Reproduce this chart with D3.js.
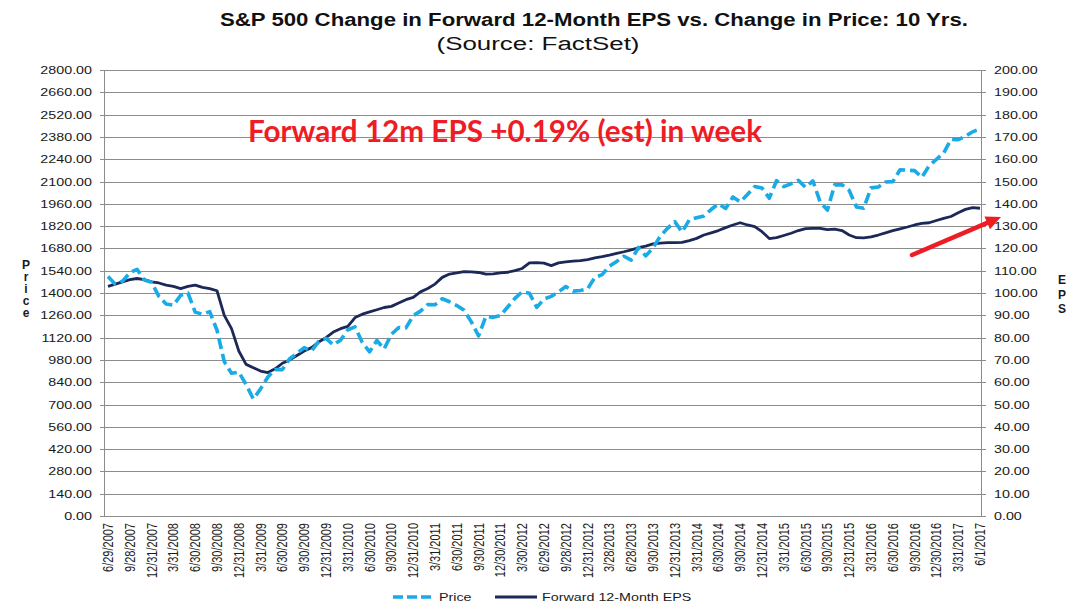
<!DOCTYPE html>
<html><head><meta charset="utf-8">
<script src="https://cdn.jsdelivr.net/npm/d3@7"></script>
<style>
html,body{margin:0;padding:0;background:#fff;}
svg{display:block;font-family:"Liberation Sans",Arial,sans-serif;}
</style></head>
<body>
<svg id="chart" width="1076" height="610"></svg>
<script>
// ---- data (month index 0 = 6/29/2007 ... 120 = 6/1/2017) ----
const xLabels = ["6/29/2007","9/28/2007","12/31/2007","3/31/2008","6/30/2008","9/30/2008","12/31/2008","3/31/2009","6/30/2009","9/30/2009","12/31/2009","3/31/2010","6/30/2010","9/30/2010","12/31/2010","3/31/2011","6/30/2011","9/30/2011","12/30/2011","3/30/2012","6/29/2012","9/28/2012","12/31/2012","3/28/2013","6/28/2013","9/30/2013","12/31/2013","3/31/2014","6/30/2014","9/30/2014","12/31/2014","3/31/2015","6/30/2015","9/30/2015","12/31/2015","3/31/2016","6/30/2016","9/30/2016","12/30/2016","3/31/2017","6/1/2017"];
const priceValues = [1503,1455,1474,1527,1549,1481,1468,1378,1331,1323,1386,1400,1280,1267,1283,1166,969,896,903,826,735,798,873,919,919,987,1021,1057,1036,1096,1115,1074,1104,1169,1187,1089,1031,1102,1049,1141,1183,1181,1258,1286,1327,1326,1364,1345,1321,1292,1219,1131,1253,1247,1258,1312,1366,1408,1398,1310,1362,1379,1407,1441,1412,1416,1426,1498,1515,1569,1598,1631,1606,1686,1633,1682,1757,1806,1848,1783,1859,1872,1884,1924,1960,1931,2003,1972,2018,2068,2059,1995,2105,2068,2086,2107,2063,2104,1972,1920,2079,2080,2044,1940,1932,2060,2065,2097,2099,2174,2171,2168,2126,2199,2239,2279,2364,2363,2384,2412,2431];
const epsValues = [103,104,105,106,106.5,106,105,104.5,103.5,103,102,103,103.5,102.5,102,101,90,84,74,68,66.5,65,64.3,66,68.5,70,72,74,75.5,78,80,82.5,84,85,89,90.5,91.5,92.5,93.5,94,95.5,97,98,100.5,102,104,107,108.5,109,109.6,109.5,109.2,108.5,108.6,109,109.3,110,111,113.5,113.6,113.4,112.3,113.5,114,114.3,114.5,115,115.7,116.3,117,117.8,118.5,119.3,120.3,121,122,122.4,122.6,122.6,122.7,123.5,124.5,126,127,128,129.3,130.5,131.5,130.5,129.8,127.5,124.4,124.8,125.8,126.8,128,128.9,129,129,128.4,128.6,128,126,124.8,124.7,125.2,126,127,128,128.8,129.6,130.5,131.2,131.5,132.5,133.5,134.3,136,137.5,138.3,138];
const leftTicks = d3.range(0, 2801, 140);
const rightTicks = d3.range(0, 201, 10);
const seriesNames = ["Price","Forward 12-Month EPS"];
const titleText = "S&P 500 Change in Forward 12-Month EPS vs. Change in Price: 10 Yrs.";
const subtitleText = "(Source: FactSet)";
const noteText = "Forward 12m EPS +0.19% (est) in week";

// ---- layout ----
const svg = d3.select("#chart");
const plot = {left:104, right:981, top:70, bottom:516};
const SX = 1.3;
const priceColor = "#1aabe6", epsColor = "#1b2858", gridColor = "#8c8c8c", textColor = "#1a1a1a";

const x = d3.scaleLinear().domain([0, 120]).range([108, 980]);
const yL = d3.scaleLinear().domain([0, 2800]).range([plot.bottom, plot.top]);
const yR = d3.scaleLinear().domain([0, 200]).range([plot.bottom, plot.top]);

function stretchText(g, tx, ty, txt, opts) {
  const t = g.append("text")
    .attr("transform", `translate(${tx},${ty}) scale(${SX},1)` + (opts.rotate ? ` rotate(${opts.rotate})` : ""))
    .attr("text-anchor", opts.anchor || "start")
    .attr("font-size", opts.size || 11)
    .attr("fill", opts.fill || textColor)
    .attr("dy", opts.dy || "0.35em")
    .text(txt);
  if (opts.weight) t.attr("font-weight", opts.weight);
  return t;
}

// gridlines
svg.append("g").selectAll("line").data(leftTicks).join("line")
  .attr("x1", plot.left).attr("x2", plot.right)
  .attr("y1", d => Math.round(yL(d)) + 0.5).attr("y2", d => Math.round(yL(d)) + 0.5)
  .attr("stroke", gridColor).attr("stroke-width", 1);

// left axis
const gL = svg.append("g");
gL.append("line").attr("x1", plot.left + 0.5).attr("x2", plot.left + 0.5)
  .attr("y1", plot.top).attr("y2", plot.bottom + 0.5).attr("stroke", gridColor);
leftTicks.forEach(d => {
  const yy = Math.round(yL(d)) + 0.5;
  gL.append("line").attr("x1", plot.left - 4).attr("x2", plot.left).attr("y1", yy).attr("y2", yy).attr("stroke", gridColor);
  stretchText(gL, 92, yy, d3.format(".2f")(d), {anchor: "end", size: 11});
});
// right axis
const gR = svg.append("g");
gR.append("line").attr("x1", plot.right + 0.5).attr("x2", plot.right + 0.5)
  .attr("y1", plot.top).attr("y2", plot.bottom + 0.5).attr("stroke", gridColor);
rightTicks.forEach(d => {
  const yy = Math.round(yR(d)) + 0.5;
  gR.append("line").attr("x1", plot.right).attr("x2", plot.right + 5).attr("y1", yy).attr("y2", yy).attr("stroke", gridColor);
  stretchText(gR, 994, yy, d3.format(".2f")(d), {anchor: "start", size: 11});
});
// x labels
const gX = svg.append("g");
xLabels.forEach((lab, i) => {
  stretchText(gX, x(i * 3), 523, lab, {anchor: "end", size: 11, rotate: -90});
});

// axis titles (stacked letters)
"Price".split("").forEach((ch, i) => {
  svg.append("text").attr("x", 26).attr("y", 269 + i * 12).attr("text-anchor", "middle")
    .attr("font-size", 12).attr("font-weight", "bold").attr("fill", textColor).text(ch);
});
"EPS".split("").forEach((ch, i) => {
  svg.append("text").attr("x", 1062).attr("y", 284 + i * 14.5).attr("text-anchor", "middle")
    .attr("font-size", 12).attr("font-weight", "bold").attr("fill", textColor).text(ch);
});

// lines
const linePrice = d3.line().x((d, i) => x(i)).y(d => yL(d));
const lineEps = d3.line().x((d, i) => x(i)).y(d => yR(d));
svg.append("path").datum(epsValues).attr("d", lineEps)
  .attr("fill", "none").attr("stroke", epsColor).attr("stroke-width", 2.8).attr("stroke-linejoin", "round");
svg.append("path").datum(priceValues).attr("d", linePrice)
  .attr("fill", "none").attr("stroke", priceColor).attr("stroke-width", 3.6)
  .attr("stroke-dasharray", "11,5").attr("stroke-linejoin", "round");

// title
svg.append("text").attr("x", 594).attr("y", 26).attr("text-anchor", "middle")
  .attr("font-size", 18).attr("font-weight", "bold").attr("fill", "#111")
  .attr("textLength", 748).attr("lengthAdjust", "spacingAndGlyphs").text(titleText);
svg.append("text").attr("x", 538).attr("y", 50).attr("text-anchor", "middle")
  .attr("font-size", 18).attr("fill", "#111")
  .attr("textLength", 203).attr("lengthAdjust", "spacingAndGlyphs").text(subtitleText);

// annotation
svg.append("text").attr("x", 248).attr("y", 142)
  .attr("font-family", "Lato, 'Open Sans', sans-serif").attr("font-size", 30).attr("font-weight", "bold")
  .attr("fill", "#ee1c25").attr("textLength", 514).attr("lengthAdjust", "spacingAndGlyphs").text(noteText);

// arrow
const ax1 = 912, ay1 = 255, ax2 = 1001, ay2 = 217;
const ang = Math.atan2(ay2 - ay1, ax2 - ax1);
const hl = 15, hw = 7;
const bx = ax2 - hl * Math.cos(ang), by = ay2 - hl * Math.sin(ang);
svg.append("line").attr("x1", ax1).attr("y1", ay1).attr("x2", bx).attr("y2", by)
  .attr("stroke", "#ee1c25").attr("stroke-width", 4.5).attr("stroke-linecap", "round");
svg.append("path").attr("d", `M${ax2},${ay2} L${bx + hw * Math.sin(ang)},${by - hw * Math.cos(ang)} L${bx - hw * Math.sin(ang)},${by + hw * Math.cos(ang)} Z`)
  .attr("fill", "#ee1c25");

// legend
const gLeg = svg.append("g");
gLeg.append("line").attr("x1", 393).attr("x2", 432).attr("y1", 597).attr("y2", 597)
  .attr("stroke", priceColor).attr("stroke-width", 3.6).attr("stroke-dasharray", "10,4");
stretchText(gLeg, 439, 597, seriesNames[0], {size: 11});
gLeg.append("line").attr("x1", 495).attr("x2", 537).attr("y1", 597).attr("y2", 597)
  .attr("stroke", epsColor).attr("stroke-width", 2.8);
stretchText(gLeg, 542, 597, seriesNames[1], {size: 11});
</script>
</body></html>
